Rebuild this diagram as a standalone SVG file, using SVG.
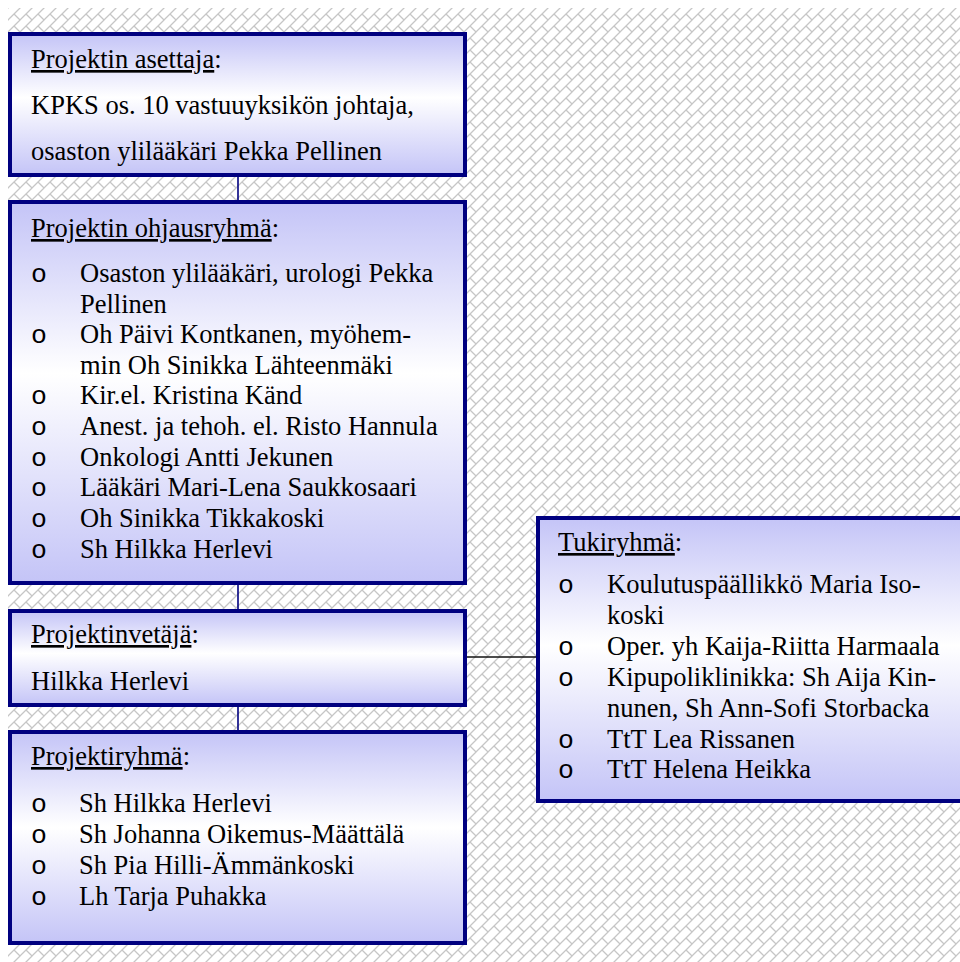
<svg xmlns="http://www.w3.org/2000/svg" width="960" height="962" viewBox="0 0 960 962">
<defs>
<pattern id="brick" patternUnits="userSpaceOnUse" x="8" y="8" width="12" height="12">
<path d="M-2,2 L2,-2 M-1,13 L13,-1 M10,14 L14,10 M6,6 L12.6,12.6" stroke="#c6c6c6" stroke-width="1.3" fill="none"/>
</pattern>
<linearGradient id="fillg" x1="0" y1="0" x2="0" y2="1">
<stop offset="0" stop-color="#c4c4f7"/>
<stop offset="0.45" stop-color="#ffffff"/>
<stop offset="1" stop-color="#c4c4f7"/>
</linearGradient>
</defs>
<style>
.box{fill:url(#fillg);stroke:#000080;stroke-width:4}
.t{font-family:"Liberation Serif","Times New Roman",serif;font-size:26.5px;fill:#000}
.b{font-family:"Liberation Mono","Courier New",monospace;font-size:26.5px;fill:#000}
.u{text-decoration:underline}
.vc{stroke:#000080;stroke-width:1.6;fill:none}
.hc{stroke:#111;stroke-width:1.6;fill:none}
</style>
<rect x="0" y="0" width="960" height="962" fill="#fff"/>
<rect x="8" y="8" width="952" height="954" fill="url(#brick)"/>
<g id="connectors">
<line class="vc" x1="238" y1="176" x2="238" y2="201"/>
<line class="vc" x1="238" y1="584" x2="238" y2="610"/>
<line class="vc" x1="238" y1="706" x2="238" y2="731"/>
<line class="hc" x1="466" y1="657" x2="537" y2="657"/>
</g>
<g id="asettaja">
<rect class="box" x="10" y="34" width="455" height="141"/>
<text class="t" x="31" y="68"><tspan class="u">Projektin asettaja</tspan>:</text>
<text class="t" x="31" y="114">KPKS os. 10 vastuuyksikön johtaja,</text>
<text class="t" x="31" y="160">osaston ylilääkäri Pekka Pellinen</text>
</g>
<g id="ohjausryhma">
<rect class="box" x="10" y="202" width="455" height="381"/>
<text class="t" x="31" y="237"><tspan class="u">Projektin ohjausryhmä</tspan>:</text>
<text class="b" x="31" y="282">o</text><text class="t" x="80" y="282">Osaston ylilääkäri, urologi Pekka</text>
<text class="t" x="80" y="313">Pellinen</text>
<text class="b" x="31" y="343">o</text><text class="t" x="80" y="343">Oh Päivi Kontkanen, myöhem-</text>
<text class="t" x="80" y="374">min Oh Sinikka Lähteenmäki</text>
<text class="b" x="31" y="404">o</text><text class="t" x="80" y="404">Kir.el. Kristina Känd</text>
<text class="b" x="31" y="435">o</text><text class="t" x="80" y="435">Anest. ja tehoh. el. Risto Hannula</text>
<text class="b" x="31" y="466">o</text><text class="t" x="80" y="466">Onkologi Antti Jekunen</text>
<text class="b" x="31" y="496">o</text><text class="t" x="80" y="496">Lääkäri Mari-Lena Saukkosaari</text>
<text class="b" x="31" y="527">o</text><text class="t" x="80" y="527">Oh Sinikka Tikkakoski</text>
<text class="b" x="31" y="558">o</text><text class="t" x="80" y="558">Sh Hilkka Herlevi</text>
</g>
<g id="vetaja">
<rect class="box" x="10" y="611" width="455" height="94"/>
<text class="t" x="31" y="643"><tspan class="u">Projektinvetäjä</tspan>:</text>
<text class="t" x="31" y="690">Hilkka Herlevi</text>
</g>
<g id="projektiryhma">
<rect class="box" x="10" y="732" width="455" height="211"/>
<text class="t" x="31" y="765"><tspan class="u">Projektiryhmä</tspan>:</text>
<text class="b" x="31" y="812">o</text><text class="t" x="79" y="812">Sh Hilkka Herlevi</text>
<text class="b" x="31" y="843">o</text><text class="t" x="79" y="843">Sh Johanna Oikemus-Määttälä</text>
<text class="b" x="31" y="874">o</text><text class="t" x="79" y="874">Sh Pia Hilli-Ämmänkoski</text>
<text class="b" x="31" y="905">o</text><text class="t" x="79" y="905">Lh Tarja Puhakka</text>
</g>
<g id="tukiryhma">
<rect class="box" x="538" y="518" width="440" height="283"/>
<text class="t" x="558" y="551"><tspan class="u">Tukiryhmä</tspan>:</text>
<text class="b" x="558" y="593">o</text><text class="t" x="607" y="593">Koulutuspäällikkö Maria Iso-</text>
<text class="t" x="607" y="624">koski</text>
<text class="b" x="558" y="655">o</text><text class="t" x="607" y="655">Oper. yh Kaija-Riitta Harmaala</text>
<text class="b" x="558" y="686">o</text><text class="t" x="607" y="686">Kipupoliklinikka: Sh Aija Kin-</text>
<text class="t" x="607" y="717">nunen, Sh Ann-Sofi Storbacka</text>
<text class="b" x="558" y="748">o</text><text class="t" x="607" y="748">TtT Lea Rissanen</text>
<text class="b" x="558" y="778">o</text><text class="t" x="607" y="778">TtT Helena Heikka</text>
</g>
</svg>
